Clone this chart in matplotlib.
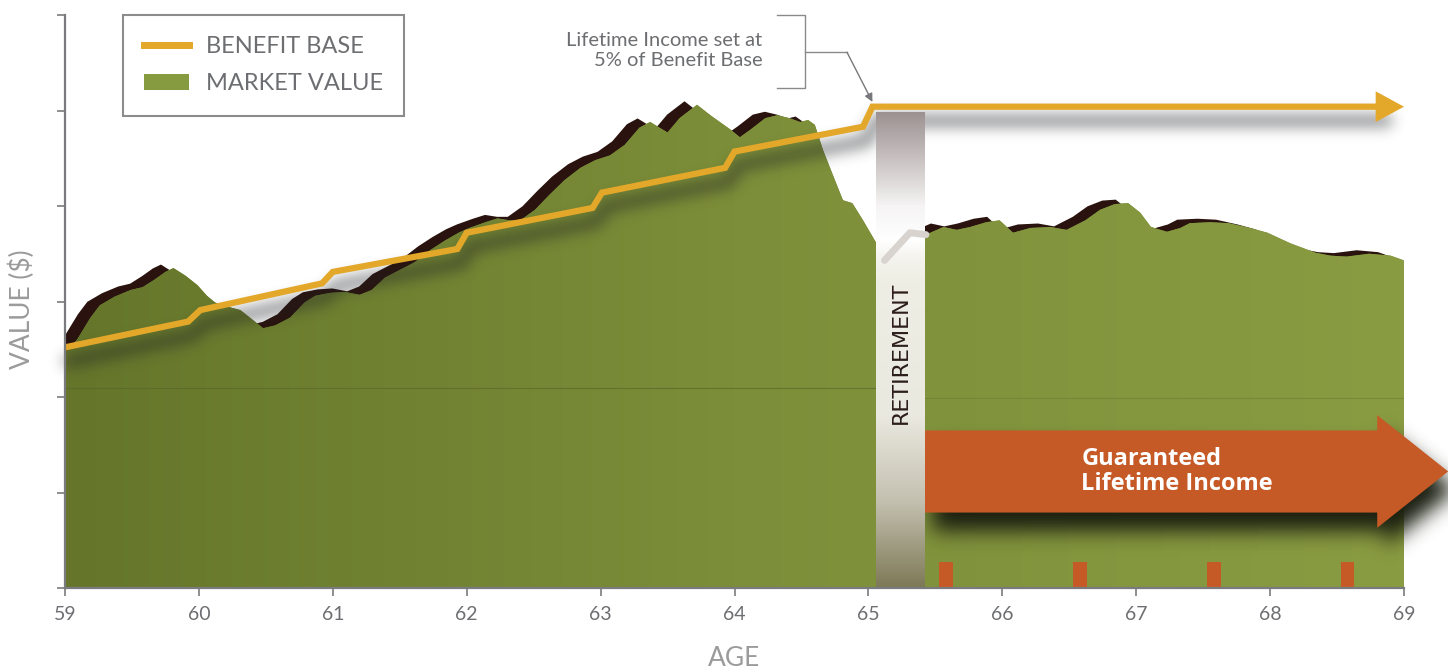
"""Benefit base vs market value chart with guaranteed lifetime income."""

import numpy as np
import matplotlib
matplotlib.use("Agg")
import matplotlib.pyplot as plt
from matplotlib.patches import FancyArrow, FancyArrowPatch, Patch
from matplotlib.lines import Line2D
from matplotlib.transforms import ScaledTranslation
from matplotlib.colors import LinearSegmentedColormap, to_rgb

# --- data -------------------------------------------------------------
BENEFIT_AGES = [59.0, 59.92, 60.01, 60.92, 61.0, 61.93, 62.0, 62.94, 63.01,
                63.93, 64.0, 64.96, 65.03, 68.84]
BENEFIT_VALUES = [2.52, 2.79, 2.91, 3.19, 3.31, 3.55, 3.72, 3.98, 4.14,
                  4.40, 4.57, 4.83, 5.04, 5.04]

MARKET_AGES = [59.00, 59.09, 59.19, 59.26, 59.37, 59.49, 59.58, 59.67, 59.75,
               59.81, 59.90, 59.99, 60.06, 60.12, 60.23, 60.31, 60.40, 60.48,
               60.57, 60.68, 60.79, 60.87, 60.98, 61.09, 61.20, 61.29, 61.39,
               61.50, 61.61, 61.73, 61.84, 61.94, 62.02, 62.14, 62.23, 62.32,
               62.40, 62.51, 62.62, 62.73, 62.85, 62.96, 63.07, 63.18, 63.29,
               63.37, 63.44, 63.50, 63.59, 63.72, 63.82, 63.89, 63.97, 64.04,
               64.12, 64.23, 64.32, 64.41, 64.49, 64.55, 64.60, 64.66, 64.75,
               64.81, 64.88, 64.96, 65.06, 65.12, 65.31, 65.43, 65.56, 65.66,
               65.76, 65.88, 65.98, 66.08, 66.21, 66.36, 66.48, 66.62, 66.73,
               66.84, 66.94, 67.03, 67.11, 67.23, 67.33, 67.40, 67.55, 67.69,
               67.85, 67.98, 68.15, 68.34, 68.45, 68.57, 68.74, 68.90, 69.00]
MARKET_VALUES = [2.47, 2.60, 2.83, 2.96, 3.05, 3.12, 3.15, 3.23, 3.31,
                 3.35, 3.27, 3.17, 3.06, 2.99, 2.94, 2.91, 2.81, 2.72,
                 2.75, 2.83, 2.99, 3.06, 3.09, 3.10, 3.07, 3.12, 3.25,
                 3.33, 3.41, 3.54, 3.64, 3.72, 3.77, 3.83, 3.87, 3.85,
                 3.85, 3.96, 4.12, 4.27, 4.40, 4.48, 4.53, 4.64, 4.82,
                 4.88, 4.82, 4.77, 4.92, 5.06, 4.95, 4.88, 4.80, 4.72,
                 4.80, 4.92, 4.95, 4.92, 4.88, 4.90, 4.85, 4.59, 4.27,
                 4.06, 4.03, 3.85, 3.61, 3.43, 3.72, 3.70, 3.78, 3.75,
                 3.78, 3.83, 3.85, 3.72, 3.77, 3.78, 3.75, 3.85, 3.96,
                 4.02, 4.03, 3.93, 3.78, 3.73, 3.77, 3.82, 3.83, 3.82,
                 3.77, 3.72, 3.61, 3.51, 3.48, 3.47, 3.50, 3.48, 3.43]

PAYMENT_AGES = [65.58, 66.58, 67.58, 68.58]
PAYMENT_HEIGHT = 0.27

RETIRE_START, RETIRE_END, RETIRE_TOP = 65.06, 65.42, 4.98
INCOME_END = 69.33
INCOME_CENTER, INCOME_WIDTH, INCOME_HEAD_WIDTH, INCOME_HEAD_LEN = 1.22, 0.86, 1.18, 0.53

AGE_TICKS = [59, 60, 61, 62, 63, 64, 65, 66, 67, 68, 69]
VALUE_TICKS = [0, 1, 2, 3, 4, 5, 6]

# --- style -------------------------------------------------------------
YELLOW = "#e3a72a"
GREEN = "#869a3f"
BROWN = "#2a130e"
ORANGE = "#c65a27"
TEXT_GREY = "#6d6e71"
LABEL_GREY = "#9b9b9b"
SPINE_GREY = "#7a7b7e"
FONT = ["Lato", "DejaVu Sans"]


def soft_shadow(sigma, dx, dy, opacity, color="#141414"):
    """agg filter: blurred, offset silhouette of the artist (pixels, dy down)."""
    rgb = np.array(to_rgb(color))
    taps = np.arange(-3 * sigma, 3 * sigma + 1)
    kern = np.exp(-taps ** 2 / (2.0 * sigma ** 2))
    kern /= kern.sum()

    def _filter(im, dpi):
        pad = 3 * sigma + max(abs(dx), abs(dy))
        alpha = np.pad(im[:, :, 3], pad)
        for axis in (0, 1):
            out = np.zeros_like(alpha)
            for t, w in zip(taps, kern):
                out += w * np.roll(alpha, t, axis=axis)
            alpha = out
        alpha = np.roll(np.roll(alpha, dy, axis=0), dx, axis=1)
        res = np.empty(alpha.shape + (4,))
        res[:, :, :3] = rgb
        res[:, :, 3] = np.clip(alpha * opacity, 0, 1)
        return res, -pad, -pad
    return _filter


fig = plt.figure(figsize=(14.48, 6.71), dpi=100)
ax = fig.add_axes([65 / 1448, 83 / 671, 1339 / 1448, 573 / 671])
ax.set_xlim(AGE_TICKS[0], AGE_TICKS[-1])
ax.set_ylim(VALUE_TICKS[0], VALUE_TICKS[-1])


def shifted(dx, dy):
    return ax.transData + ScaledTranslation(dx, dy, fig.dpi_scale_trans)


# market value: dark offset ridge, then gradient green body
ax.fill_between(MARKET_AGES, MARKET_VALUES, 0, color=BROWN, lw=0,
                transform=shifted(-0.13, 0.04), zorder=1)
body = ax.fill_between(MARKET_AGES, MARKET_VALUES, 0, facecolor="#77883a",
                       lw=0, zorder=2)
greens = LinearSegmentedColormap.from_list("greens", ["#65762b", "#7c8e39", "#8a9c42"])
grad = ax.imshow(np.linspace(0, 1, 256).reshape(1, -1), cmap=greens,
                 extent=[59, 69, 0, 6], aspect="auto", zorder=2.1)
grad.set_clip_path(body.get_paths()[0], ax.transData)

# faint layering lines seen in the original artwork
ax.hlines(2.09, 59, RETIRE_START, color="#55642a", lw=0.8, alpha=0.6, zorder=2.2)
ax.hlines(1.99, RETIRE_START, 69, color="#6d7f33", lw=0.8, alpha=0.6, zorder=2.2)

# blurred shadow under the benefit base line
bb_shadow, = ax.plot(BENEFIT_AGES, BENEFIT_VALUES, color="k", lw=9,
                     solid_capstyle="round", zorder=3, clip_on=False)
bb_shadow.set_agg_filter(soft_shadow(7, 4, 14, 0.5, color="#1e2024"))

# income payments
ax.bar(PAYMENT_AGES, PAYMENT_HEIGHT, width=0.1, color=ORANGE, zorder=3)

# guaranteed lifetime income arrow with a blurred shadow
arrow_kw = dict(width=INCOME_WIDTH, head_width=INCOME_HEAD_WIDTH,
                head_length=INCOME_HEAD_LEN, length_includes_head=True,
                clip_on=False)
arrow_shadow = FancyArrow(RETIRE_END, INCOME_CENTER, INCOME_END - RETIRE_END, 0,
                          facecolor="k", edgecolor="none", zorder=3.5, **arrow_kw)
arrow_shadow.set_agg_filter(soft_shadow(10, 8, 18, 1.0, color="#1a1e10"))
ax.add_patch(arrow_shadow)
ax.add_patch(FancyArrow(RETIRE_END, INCOME_CENTER, INCOME_END - RETIRE_END, 0,
                        facecolor=ORANGE, edgecolor="none", zorder=3.6, **arrow_kw))
ax.text(66.59, INCOME_CENTER, "Guaranteed\nLifetime Income", color="white",
        fontsize=17, fontweight="bold", family=["Open Sans", "DejaVu Sans"],
        ha="left", va="center", linespacing=1.1, zorder=3.7)

# retirement column
stops_y = [0.0, 0.9, 1.8, 3.2, 3.45, 3.65, 4.0, 4.5, RETIRE_TOP]
stops_rgb = np.array([[125, 121, 86], [196, 192, 176], [234, 233, 224],
                      [239, 238, 228], [244, 243, 237], [255, 255, 255],
                      [246, 244, 244], [200, 193, 193], [156, 146, 146]]) / 255
yy = np.linspace(0, RETIRE_TOP, 300)
col = np.stack([np.interp(yy, stops_y, stops_rgb[:, k]) for k in range(3)], axis=-1)
ax.imshow(col[::-1, None, :], extent=[RETIRE_START, RETIRE_END, 0, RETIRE_TOP],
          aspect="auto", zorder=4)
mv_a = np.array(MARKET_AGES)
mv_v = np.array(MARKET_VALUES)
inside = (mv_a > RETIRE_START) & (mv_a <= RETIRE_END + 0.01)
ax.plot(mv_a[inside], mv_v[inside], color="#d8d3cf", lw=5,
        solid_capstyle="round", zorder=4.5)
ax.text((RETIRE_START + RETIRE_END) / 2, 2.46, "RETIREMENT", rotation=90,
        color="#2b1d1a", fontsize=16, family="DejaVu Sans",
        ha="center", va="center", zorder=4.6)

# benefit base line and arrow head
ax.plot(BENEFIT_AGES, BENEFIT_VALUES, color=YELLOW, lw=4.5,
        solid_joinstyle="miter", zorder=6)
ax.add_patch(FancyArrowPatch((BENEFIT_AGES[-1] - 0.05, BENEFIT_VALUES[-1]),
                             (AGE_TICKS[-1], BENEFIT_VALUES[-1]),
                             arrowstyle="-|>,head_length=1.2,head_width=0.65",
                             mutation_scale=17, color=YELLOW, lw=0,
                             shrinkA=0, shrinkB=0, zorder=6, clip_on=False))

# callout
ax.text(64.21, 5.63, "Lifetime Income set at\n5% of Benefit Base",
        ha="right", va="center", multialignment="right", color=TEXT_GREY,
        fontsize=14.5, family=FONT, linespacing=1.25)
ax.plot([64.32, 64.53, 64.53, 64.32], [6.0, 6.0, 5.24, 5.24],
        color="#8a8a8a", lw=1, clip_on=False, zorder=6)
ax.plot([64.53, 64.84], [5.61, 5.61], color="#8a8a8a", lw=1, clip_on=False)
ax.annotate("", xy=(BENEFIT_AGES[12], BENEFIT_VALUES[12] + 0.05),
            xytext=(64.84, 5.61),
            arrowprops=dict(arrowstyle="-|>", color="#77787b", lw=1,
                            mutation_scale=12, shrinkA=0, shrinkB=0))

# legend
leg = ax.legend(handles=[Line2D([], [], color=YELLOW, lw=5),
                         Patch(facecolor=GREEN, edgecolor="none")],
                labels=["BENEFIT BASE", "MARKET VALUE"],
                loc="upper left", bbox_to_anchor=(0.0433, 1.0),
                borderaxespad=0, frameon=True, fancybox=False,
                edgecolor="#8c8c8c", framealpha=1, handlelength=1.9,
                handleheight=0.7, handletextpad=0.7, borderpad=0.9,
                labelspacing=0.68, prop=dict(family=FONT, size=17))
leg.get_frame().set_linewidth(1.5)
for t in leg.get_texts():
    t.set_color(TEXT_GREY)
leg.set_zorder(10)

# axes
for side in ("top", "right"):
    ax.spines[side].set_visible(False)
for side in ("left", "bottom"):
    ax.spines[side].set_color(SPINE_GREY)
    ax.spines[side].set_linewidth(1.6)
    ax.spines[side].set_zorder(8)
ax.set_xticks(AGE_TICKS)
ax.set_yticks(VALUE_TICKS)
ax.set_yticklabels([])
ax.tick_params(colors=SPINE_GREY, length=6, width=1.2, labelcolor=TEXT_GREY,
               labelsize=14, pad=7)
for lab in ax.get_xticklabels():
    lab.set_family(FONT)

fig.text(734 / 1448, 1 - 658 / 671, "AGE", ha="center", va="center",
         fontsize=19, color=LABEL_GREY, family=FONT)
fig.text(22 / 1448, 1 - 309 / 671, "VALUE ($)", ha="center", va="center",
         rotation=90, fontsize=19, color=LABEL_GREY, family=FONT)

fig.savefig("out.png", dpi=100)
